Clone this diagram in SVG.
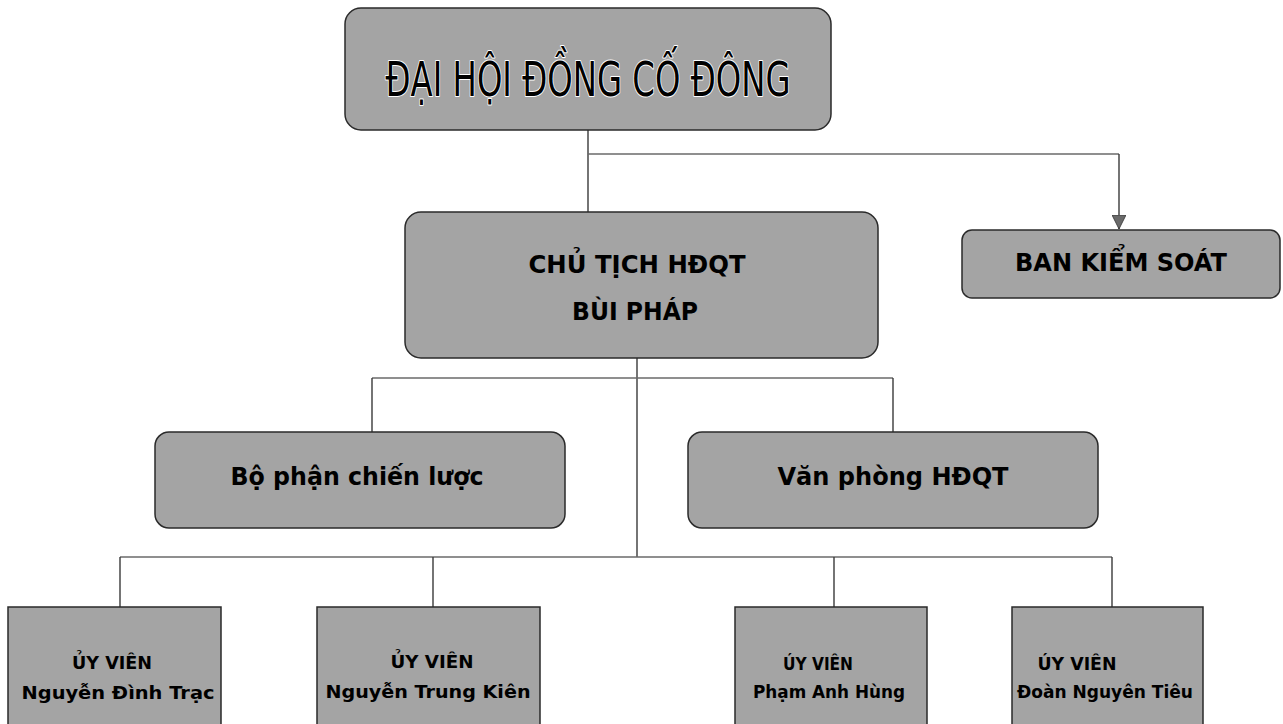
<svg xmlns="http://www.w3.org/2000/svg" width="1283" height="724" viewBox="0 0 1283 724">
<style>
.box{fill:#a4a4a4;stroke:#2a2a2a;stroke-width:1.5}
.ln{fill:none;stroke:#3a3a3a;stroke-width:1.4}
.lnl{fill:none;stroke:#6a6a6a;stroke-width:1.4}
.t{font-family:"DejaVu Sans","Liberation Sans",sans-serif;font-weight:bold;fill:#000;text-anchor:middle}
.title{font-family:"DejaVu Sans","Liberation Sans",sans-serif;font-size:48px;fill:#000;text-anchor:middle;stroke:#fff;stroke-width:2;paint-order:stroke;stroke-linejoin:round}
.m{font-size:25px}
.s{font-size:17px}
</style>
<defs>
<marker id="arrow" viewBox="0 0 16 14" refX="14" refY="7" markerWidth="16" markerHeight="14" markerUnits="userSpaceOnUse" orient="auto">
<path d="M0,0 L14,7 L0,14 z" fill="#6a6a6a" stroke="#333" stroke-width="0.8"/>
</marker>
</defs>
<rect width="1283" height="724" fill="#fff"/>
<g id="connectors">
<path class="ln" d="M588,130 V212"/>
<path class="lnl" d="M588,154 H1119"/>
<path class="ln" d="M1119,154 V229" marker-end="url(#arrow)"/>
<path class="ln" d="M637,358 V557"/>
<path class="lnl" d="M372,378 H893"/>
<path class="ln" d="M372,378 V432"/>
<path class="ln" d="M893,378 V432"/>
<path class="lnl" d="M120,557 H1112"/>
<path class="ln" d="M120,557 V607"/>
<path class="ln" d="M433,557 V607"/>
<path class="ln" d="M834,557 V607"/>
<path class="ln" d="M1112,557 V607"/>
</g>
<g id="dai-hoi-dong-co-dong">
<rect class="box" x="345" y="8" width="486" height="122" rx="16"/>
<text class="title" x="588" y="96" textLength="405" lengthAdjust="spacingAndGlyphs">ĐẠI HỘI ĐỒNG CỐ ĐÔNG</text>
</g>
<g id="chu-tich">
<rect class="box" x="405" y="212" width="473" height="146" rx="16"/>
<text class="t m" x="637" y="273" textLength="217" lengthAdjust="spacingAndGlyphs">CHỦ TỊCH HĐQT</text>
<text class="t m" x="635" y="320" textLength="126" lengthAdjust="spacingAndGlyphs">BÙI PHÁP</text>
</g>
<g id="ban-kiem-soat">
<rect class="box" x="962" y="230" width="318" height="68" rx="10"/>
<text class="t m" x="1121" y="271" textLength="212" lengthAdjust="spacingAndGlyphs">BAN KIỂM SOÁT</text>
</g>
<g id="bo-phan-chien-luoc">
<rect class="box" x="155" y="432" width="410" height="96" rx="14"/>
<text class="t m" x="357" y="485" textLength="253" lengthAdjust="spacingAndGlyphs">Bộ phận chiến lược</text>
</g>
<g id="van-phong-hdqt">
<rect class="box" x="688" y="432" width="410" height="96" rx="14"/>
<text class="t m" x="893" y="485" textLength="231" lengthAdjust="spacingAndGlyphs">Văn phòng HĐQT</text>
</g>
<g id="uy-vien-1">
<rect class="box" x="8" y="607" width="213" height="130"/>
<text class="t s" x="112" y="669" textLength="80" lengthAdjust="spacingAndGlyphs">ỦY VIÊN</text>
<text class="t s" x="118" y="699" textLength="193" lengthAdjust="spacingAndGlyphs">Nguyễn Đình Trạc</text>
</g>
<g id="uy-vien-2">
<rect class="box" x="317" y="607" width="223" height="130"/>
<text class="t s" x="432" y="668" textLength="83" lengthAdjust="spacingAndGlyphs">ỦY VIÊN</text>
<text class="t s" x="428" y="698" textLength="205" lengthAdjust="spacingAndGlyphs">Nguyễn Trung Kiên</text>
</g>
<g id="uy-vien-3">
<rect class="box" x="735" y="607" width="192" height="130"/>
<text class="t s" x="818" y="670" textLength="70" lengthAdjust="spacingAndGlyphs">ÚY VIÊN</text>
<text class="t s" x="829" y="698" textLength="152" lengthAdjust="spacingAndGlyphs">Phạm Anh Hùng</text>
</g>
<g id="uy-vien-4">
<rect class="box" x="1012" y="607" width="191" height="130"/>
<text class="t s" x="1077" y="670" textLength="79" lengthAdjust="spacingAndGlyphs">ÚY VIÊN</text>
<text class="t s" x="1105" y="698" textLength="176" lengthAdjust="spacingAndGlyphs">Đoàn Nguyên Tiêu</text>
</g>
</svg>
